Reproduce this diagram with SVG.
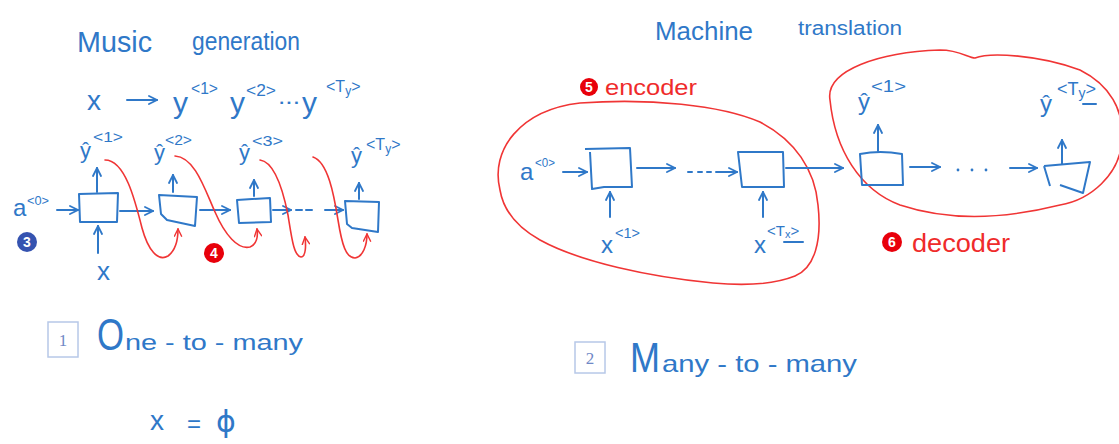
<svg xmlns="http://www.w3.org/2000/svg" width="1119" height="444" viewBox="0 0 1119 444">
<style>
.t{font-family:"Liberation Sans",Arial,sans-serif;fill:#2f78c8}
.rt{font-family:"Liberation Sans",Arial,sans-serif;fill:#ef2b2b}
.ln{fill:none;stroke:#2f78c8;stroke-width:2;stroke-linecap:round;stroke-linejoin:round}
.rl{fill:none;stroke:#f03535;stroke-width:1.6;stroke-linecap:round}
.box{fill:none;stroke:#2f78c8;stroke-width:2;stroke-linejoin:round}
.nb{fill:none;stroke:#b7c8e8;stroke-width:1.5}
.nt{font-family:"Liberation Serif",serif;fill:#6f88c6;font-size:17px;text-anchor:middle}
.ct{font-family:"Liberation Sans",Arial,sans-serif;fill:#fff;font-size:14px;font-weight:bold;text-anchor:middle}
</style>
<defs>
<marker id="ab" viewBox="0 0 10 10" refX="9" refY="5" markerWidth="10" markerHeight="10" markerUnits="userSpaceOnUse" orient="auto"><path d="M1,1 L9,5 L1,9" fill="none" stroke="#2f78c8" stroke-width="1.8" stroke-linecap="round"/></marker>
<marker id="ar" viewBox="0 0 10 10" refX="9" refY="5" markerWidth="9" markerHeight="9" markerUnits="userSpaceOnUse" orient="auto"><path d="M1,1 L9,5 L1,9" fill="none" stroke="#f03535" stroke-width="1.6" stroke-linecap="round"/></marker>
</defs>

<!-- Left: music generation -->
<g id="title-music">
<text class="t" x="77" y="52" font-size="30" textLength="75" lengthAdjust="spacingAndGlyphs">Music</text>
<text class="t" x="192" y="50" font-size="26" textLength="108" lengthAdjust="spacingAndGlyphs">generation</text>
</g>
<g id="formula-music">
<text class="t" x="87" y="110" font-size="28">x</text>
<text class="t" x="173" y="113" font-size="30">y</text>
<text class="t" x="191" y="94" font-size="16" textLength="27" lengthAdjust="spacingAndGlyphs">&lt;1&gt;</text>
<text class="t" x="230" y="113" font-size="30">y</text>
<text class="t" x="246" y="96" font-size="16" textLength="30" lengthAdjust="spacingAndGlyphs">&lt;2&gt;</text>
<text class="t" x="278" y="104" font-size="22" textLength="22" lengthAdjust="spacingAndGlyphs">...</text>
<text class="t" x="302" y="113" font-size="30">y</text>
<text class="t" x="326" y="92" font-size="16">&lt;T<tspan font-size="12" dy="3">y</tspan><tspan dy="-3">&gt;</tspan></text>
</g>
<g id="a0-music">
<text class="t" x="13" y="216" font-size="24">a</text>
<text class="t" x="27" y="205" font-size="13" textLength="22" lengthAdjust="spacingAndGlyphs">&lt;0&gt;</text>
</g>
<g id="cell1"><path class="box" d="M79,194 L118,193 L117,222 L80,222 Z"/></g>
<g id="cell2"><path class="box" d="M159,195 L197,197 L195,226 L167,220 L161,214 Z"/></g>
<g id="cell3"><path class="box" d="M237,200 L270,198 L271,222 L239,223 Z"/></g>
<g id="cell4"><path class="box" d="M345,201 L379,202 L378,232 L352,228 L347,224 Z"/></g>
<g id="yhat1">
<text class="t" x="80" y="158" font-size="22">ŷ</text>
<text class="t" x="93" y="142" font-size="15" textLength="30" lengthAdjust="spacingAndGlyphs">&lt;1&gt;</text>
</g>
<g id="yhat2">
<text class="t" x="154" y="160" font-size="22">ŷ</text>
<text class="t" x="165" y="145" font-size="15" textLength="27" lengthAdjust="spacingAndGlyphs">&lt;2&gt;</text>
</g>
<g id="yhat3">
<text class="t" x="239" y="160" font-size="22">ŷ</text>
<text class="t" x="252" y="146" font-size="15" textLength="31" lengthAdjust="spacingAndGlyphs">&lt;3&gt;</text>
</g>
<g id="yhatTy">
<text class="t" x="351" y="163" font-size="22">ŷ</text>
<text class="t" x="366" y="150" font-size="16">&lt;T<tspan font-size="12" dy="3">y</tspan><tspan dy="-3">&gt;</tspan></text>
</g>
<g id="input-x"><text class="t" x="97" y="280" font-size="26">x</text></g>
<g id="badge3"><circle cx="27" cy="242" r="10" fill="#3553b0"/><text class="ct" x="27" y="247">3</text></g>
<g id="badge4"><circle cx="214" cy="253" r="10" fill="#e8000b"/><text class="ct" x="214" y="258">4</text></g>
<g id="label-one-to-many">
<rect class="nb" x="48" y="322" width="30" height="35"/>
<text class="nt" x="63" y="346">1</text>
<text class="t" x="97" y="350" font-size="44" textLength="27" lengthAdjust="spacingAndGlyphs">O</text>
<text class="t" x="125" y="350" font-size="22" textLength="178" lengthAdjust="spacingAndGlyphs">ne - to - many</text>
</g>
<g id="x-empty">
<text class="t" x="150" y="430" font-size="28">x</text>
<text class="t" x="187" y="432" font-size="24">=</text>
<text class="t" x="216" y="432" font-size="30" style="font-family:'DejaVu Sans',sans-serif">ϕ</text>
</g>

<!-- Right: machine translation -->
<g id="title-mt">
<text class="t" x="655" y="40" font-size="26" textLength="98" lengthAdjust="spacingAndGlyphs">Machine</text>
<text class="t" x="798" y="35" font-size="20" textLength="104" lengthAdjust="spacingAndGlyphs">translation</text>
</g>
<g id="encoder">
<path class="rl" d="M500,190 C490,150 520,110 580,103 C650,98 720,105 760,122 C795,140 815,170 818,205 C822,240 815,268 795,276 C770,286 735,285 713,283 C650,277 580,262 540,240 C515,226 503,208 500,190 Z"/>
<circle cx="589" cy="87" r="9" fill="#e8000b"/><text class="ct" x="589" y="92">5</text>
<text class="rt" x="605" y="95" font-size="22" textLength="92" lengthAdjust="spacingAndGlyphs">encoder</text>
</g>
<g id="decoder">
<path class="rl" d="M830,100 C825,70 880,52 940,50 C960,50 968,58 975,58 C990,52 1040,55 1080,70 C1110,85 1124,110 1122,140 C1120,175 1090,200 1060,205 C1020,215 960,225 900,205 C860,190 835,150 830,100 Z"/>
<circle cx="892" cy="242" r="10" fill="#e8000b"/><text class="ct" x="892" y="247">6</text>
<text class="rt" x="912" y="252" font-size="26" textLength="98" lengthAdjust="spacingAndGlyphs">decoder</text>
</g>
<g id="a0-mt">
<text class="t" x="520" y="180" font-size="24">a</text>
<text class="t" x="535" y="167" font-size="13" textLength="20" lengthAdjust="spacingAndGlyphs">&lt;0&gt;</text>
</g>
<g id="enc-cell1"><path class="box" d="M585,149 L630,148 L632,187 L604,187 L592,189 L590,152"/></g>
<g id="enc-cell2"><path class="box" d="M738,152 L783,152 L784,187 L742,187 Z"/></g>
<g id="x1-mt">
<text class="t" x="601" y="253" font-size="24">x</text>
<text class="t" x="615" y="238" font-size="15" textLength="25" lengthAdjust="spacingAndGlyphs">&lt;1&gt;</text>
</g>
<g id="xTx-mt">
<text class="t" x="754" y="253" font-size="24">x</text>
<text class="t" x="767" y="236" font-size="15">&lt;T<tspan font-size="11" dy="2">x</tspan><tspan dy="-2">&gt;</tspan></text>
<path class="ln" d="M784,242 L803,242"/>
</g>
<g id="dec-cell1"><path class="box" d="M860,154 Q880,150 902,154 L903,185 L862,185 Z"/></g>
<g id="dec-cell2"><path class="box" d="M1044,166 L1090,162 L1083,193 L1060,185 M1044,166 L1050,186"/></g>
<g id="yhat1-mt">
<text class="t" x="858" y="110" font-size="24">ŷ</text>
<text class="t" x="871" y="92" font-size="16" textLength="35" lengthAdjust="spacingAndGlyphs">&lt;1&gt;</text>
</g>
<g id="yhatTy-mt">
<text class="t" x="1040" y="112" font-size="24">ŷ</text>
<text class="t" x="1057" y="95" font-size="18">&lt;T<tspan font-size="14" dy="3">y</tspan><tspan dy="-3">&gt;</tspan></text>
<path class="ln" d="M1083,104 L1096,104"/>
</g>
<g id="label-many-to-many">
<rect class="nb" x="575" y="342" width="30" height="31"/>
<text class="nt" x="590" y="364">2</text>
<text class="t" x="630" y="372" font-size="42" textLength="30" lengthAdjust="spacingAndGlyphs">M</text>
<text class="t" x="662" y="372" font-size="24" textLength="195" lengthAdjust="spacingAndGlyphs">any - to - many</text>
</g>

<g id="connectors">
<!-- music generation -->
<path class="ln" d="M127,100 L157,100" marker-end="url(#ab)"/>
<path class="ln" d="M57,210 L78,210" marker-end="url(#ab)"/>
<path class="ln" d="M120,211 L153,211" marker-end="url(#ab)"/>
<path class="ln" d="M200,210 L230,210" marker-end="url(#ab)"/>
<path class="ln" d="M273,210 L291,210" marker-end="url(#ab)"/>
<path class="ln" d="M296,210 L302,210 M306,210 L312,210"/>
<path class="ln" d="M325,210 L343,210" marker-end="url(#ab)"/>
<path class="ln" d="M97,192 L97,168" marker-end="url(#ab)"/>
<path class="ln" d="M173,192 L173,175" marker-end="url(#ab)"/>
<path class="ln" d="M254,196 L254,180" marker-end="url(#ab)"/>
<path class="ln" d="M359,199 L359,183" marker-end="url(#ab)"/>
<path class="ln" d="M98,253 L98,226" marker-end="url(#ab)"/>
<path class="rl" d="M105,160 C125,160 135,200 142,228 C148,250 158,262 168,256 C176,250 178,240 178,229" marker-end="url(#ar)"/>
<path class="rl" d="M175,156 C195,157 205,190 215,212 C225,235 238,250 250,247 C257,244 258,236 257,229" marker-end="url(#ar)"/>
<path class="rl" d="M260,160 C275,162 283,190 288,215 C292,240 294,256 301,257 C306,257 306,245 305,237" marker-end="url(#ar)"/>
<path class="rl" d="M313,157 C328,162 334,195 338,220 C342,245 346,258 355,258 C363,257 367,245 367,234" marker-end="url(#ar)"/>
<!-- machine translation -->
<path class="ln" d="M563,172 L587,172" marker-end="url(#ab)"/>
<path class="ln" d="M637,168 L675,168" marker-end="url(#ab)"/>
<path class="ln" d="M688,172 L692,172 M698,172 L702,172 M707,172 L711,172"/>
<path class="ln" d="M716,172 L737,172" marker-end="url(#ab)"/>
<path class="ln" d="M610,217 L610,192" marker-end="url(#ab)"/>
<path class="ln" d="M763,217 L763,192" marker-end="url(#ab)"/>
<path class="ln" d="M786,168 L843,168" marker-end="url(#ab)"/>
<path class="ln" d="M878,151 L878,125" marker-end="url(#ab)"/>
<path class="ln" d="M910,167 L940,167" stroke-width="3" marker-end="url(#ab)"/>
<circle cx="958" cy="170" r="1.4" fill="#2f78c8"/>
<circle cx="972" cy="170" r="1.4" fill="#2f78c8"/>
<circle cx="986" cy="170" r="1.4" fill="#2f78c8"/>
<path class="ln" d="M1010,168 L1037,168" marker-end="url(#ab)"/>
<path class="ln" d="M1062,164 L1062,140" marker-end="url(#ab)"/>
</g>
</svg>
